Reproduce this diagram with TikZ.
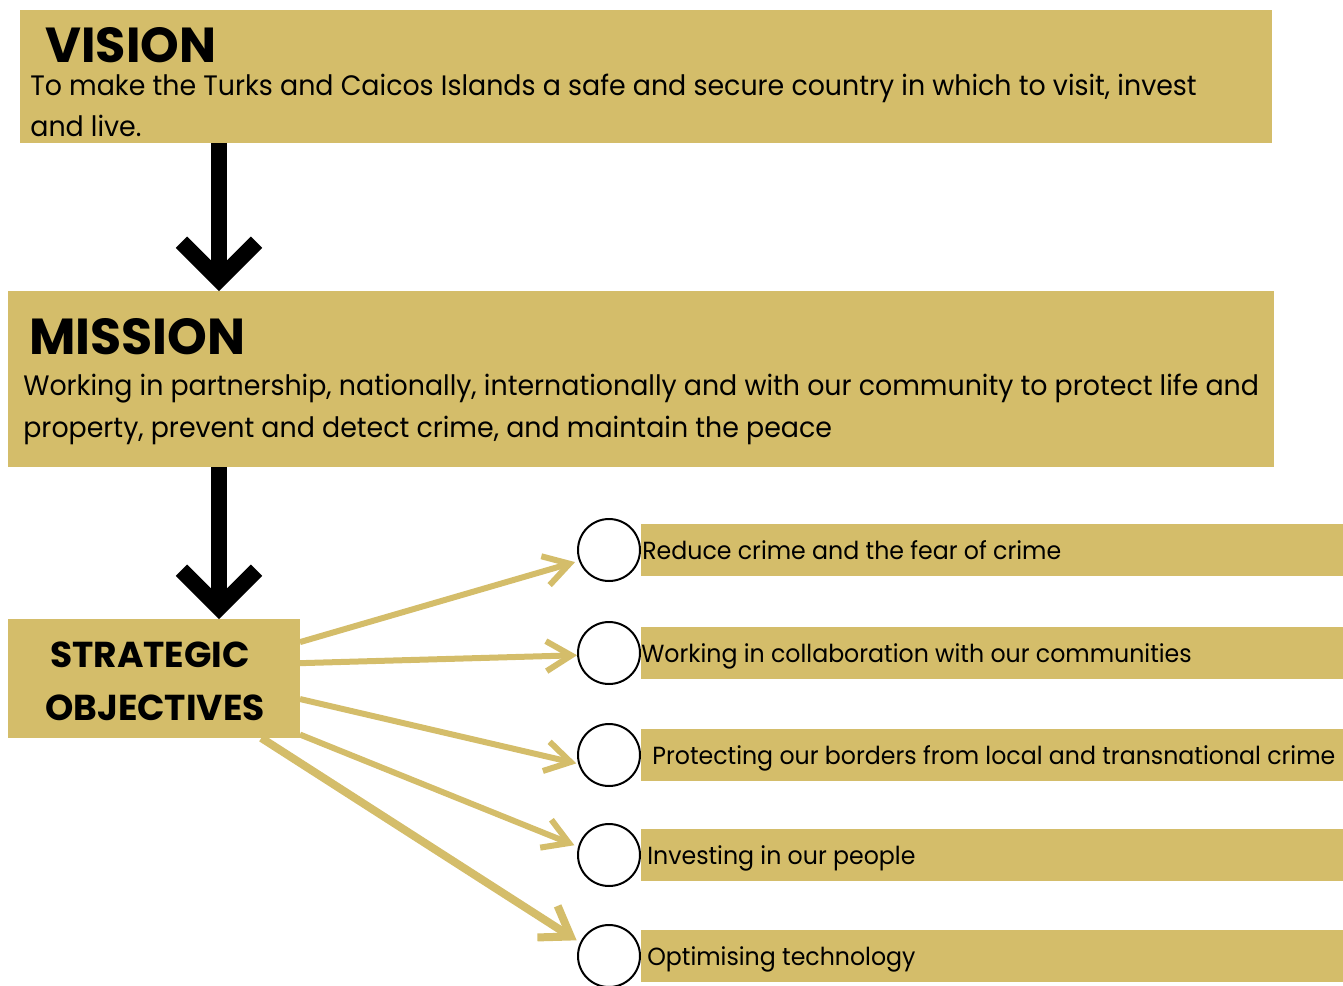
\documentclass[tikz,border=0pt]{standalone}
\usepackage{fontspec}
\setmainfont{Poppins}[FakeStretch=0.955]
\newfontfamily\headfont{Poppins}
\usetikzlibrary{arrows.meta}
\definecolor{gold}{RGB}{212,189,106}

\tikzset{
  panel/.style={fill=gold, inner sep=0pt, outer sep=0pt},
  heading/.style={anchor=base west, inner sep=0pt, font=\headfont\bfseries\fontsize{28}{30}\selectfont},
  subheading/.style={anchor=base, inner sep=0pt, font=\headfont\bfseries\fontsize{20.5}{24}\selectfont},
  body/.style={anchor=base west, inner sep=0pt, font=\fontsize{16}{20}\selectfont},
  item/.style={anchor=base west, inner sep=0pt, font=\fontsize{14.1}{18}\selectfont},
  bullet/.style={circle, draw=black, line width=0.04cm, minimum size=1.24cm, inner sep=0pt},
  down/.style={line width=0.32cm, -{Straight Barb[length=0.75cm, width=1.5cm, sharp]}},
  branch/.style={gold, line width=0.12cm, shorten >=0.08cm, -{Straight Barb[length=0.5cm, width=0.6cm]}},
}

\begin{document}
\begin{tikzpicture}[x=0.02cm, y=-0.02cm]
      \useasboundingbox (0, 0) rectangle (1343, 985);

      % vision
      \node [panel, minimum width=25.04cm, minimum height=2.66cm] (vision) at (646, 76.5) {};
      \node [heading] (visiontitle) at (45, 62) {VISION};
      \node [body] (visionline1) at (30, 95) {To make the Turks and Caicos Islands a safe and secure country in which to visit, invest};
      \node [body] (visionline2) at (30, 136) {and live.};

      % mission
      \node [panel, minimum width=25.32cm, minimum height=3.52cm] (mission) at (641, 379) {};
      \node [heading, font=\headfont\bfseries\fontsize{28.8}{30}\selectfont] (missiontitle) at (29, 354) {MISSION};
      \node [body] (missionline1) at (23, 395) {Working in partnership, nationally, internationally and with our community to protect life and};
      \node [body] (missionline2) at (23, 437) {property, prevent and detect crime, and maintain the peace};

      % strategic objectives
      \node [panel, minimum width=5.84cm, minimum height=2.38cm] (objectives) at (154, 678.5) {};
      \node [subheading] (objline1) at (150, 667) {STRATEGIC};
      \node [subheading] (objline2) at (155, 720) {OBJECTIVES};

      \coordinate (spine) at (219, 0);
      \draw [down] (vision.south -| spine) -- (mission.north -| spine);
      \draw [down] (mission.south -| spine) -- (objectives.north -| spine);

      % objectives list
      \foreach \y/\x/\t [count=\i] in {550/642/Reduce crime and the fear of crime,
          653/641/Working in collaboration with our communities,
          755/652/Protecting our borders from local and transnational crime,
          855/647/Investing in our people,
          956/647/Optimising technology} {
        \node [panel, minimum width=14.04cm, minimum height=1.04cm] (bar\i) at (992, \y) {};
        \node [bullet] (dot\i) at (609, \y) {};
        \node [item] (label\i) at (\x, \y + 9) {\t};
      }

      \draw [branch] (objectives.14) -- (dot1.200);
      \draw [branch, shorten >=0pt] (objectives.6) -- (dot2.184);
      \draw [branch, shorten >=0.04cm] (objectives.352) -- (dot3.196);
      \draw [branch] (objectives.339) -- (dot4.165);
      \draw [branch, line width=0.16cm, -{Straight Barb[length=0.55cm, width=0.75cm]}] (objectives.331) -- (dot5.155);
    \end{tikzpicture}
\end{document}
